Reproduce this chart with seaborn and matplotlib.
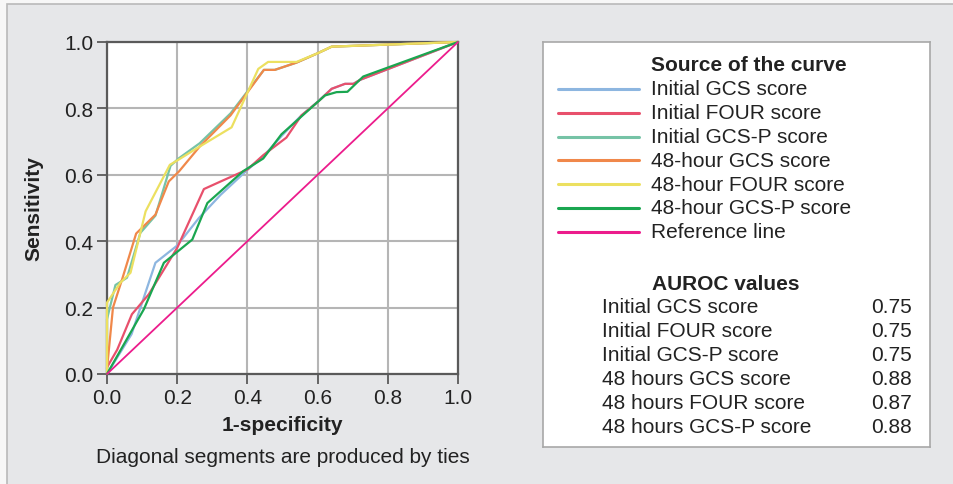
import matplotlib
matplotlib.use("Agg")
import matplotlib.pyplot as plt
import seaborn as sns
import pandas as pd
from matplotlib.patches import Rectangle

# --- data ---
gcs_init_x = [0, 0.07, 0.138, 0.2, 0.262, 0.324, 0.4, 0.445, 0.5, 0.55, 0.6, 0.64, 0.678, 0.702, 0.721, 1.0]
gcs_init_y = [0, 0.12, 0.335, 0.387, 0.47, 0.54, 0.615, 0.655, 0.72, 0.775, 0.82, 0.859, 0.874, 0.874, 0.886, 1.0]

four_init_x = [0, 0.029, 0.071, 0.119, 0.2, 0.276, 0.324, 0.4, 0.445, 0.511, 0.554, 0.601, 0.64, 0.678, 0.702, 0.721, 1.0]
four_init_y = [0.02, 0.073, 0.18, 0.24, 0.38, 0.557, 0.58, 0.616, 0.659, 0.712, 0.779, 0.82, 0.859, 0.874, 0.874, 0.886, 1.0]

gcsp_init_x = [0, 0, 0.024, 0.057, 0.095, 0.138, 0.181, 0.205, 0.264, 0.352, 0.447, 0.478, 0.54, 0.6, 0.64, 1.0]
gcsp_init_y = [0, 0.165, 0.268, 0.29, 0.425, 0.477, 0.627, 0.65, 0.695, 0.785, 0.916, 0.916, 0.938, 0.966, 0.986, 1.0]

gcs_48_x = [0, 0.017, 0.043, 0.083, 0.138, 0.176, 0.205, 0.264, 0.352, 0.447, 0.478, 0.54, 0.6, 0.64, 1.0]
gcs_48_y = [0.015, 0.2, 0.285, 0.423, 0.48, 0.58, 0.61, 0.685, 0.779, 0.916, 0.916, 0.938, 0.966, 0.986, 1.0]

four_48_x = [0, 0, 0.038, 0.067, 0.11, 0.179, 0.203, 0.264, 0.355, 0.431, 0.459, 0.54, 0.6, 0.64, 1.0]
four_48_y = [0, 0.215, 0.275, 0.305, 0.49, 0.63, 0.645, 0.685, 0.743, 0.919, 0.94, 0.94, 0.966, 0.986, 1.0]

gcsp_48_x = [0, 0.105, 0.162, 0.243, 0.286, 0.388, 0.445, 0.497, 0.55, 0.621, 0.654, 0.685, 0.73, 1.0]
gcsp_48_y = [0, 0.195, 0.335, 0.405, 0.515, 0.611, 0.649, 0.722, 0.772, 0.839, 0.849, 0.85, 0.896, 1.0]

ref_x = [0, 1]
ref_y = [0, 1]

curve_names = ["Initial GCS score", "Initial FOUR score", "Initial GCS-P score",
               "48-hour GCS score", "48-hour FOUR score", "48-hour GCS-P score",
               "Reference line"]
curve_colors = ["#8db6e0", "#e8506c", "#76c3a6", "#f0884a", "#ece060", "#1aa650", "#ec1c8c"]

auroc_labels = ["Initial GCS score", "Initial FOUR score", "Initial GCS-P score",
                "48 hours GCS score", "48 hours FOUR score", "48 hours GCS-P score"]
auroc_values = ["0.75", "0.75", "0.75", "0.88", "0.87", "0.88"]

# long table for seaborn
xs = [gcs_init_x, four_init_x, gcsp_init_x, gcs_48_x, four_48_x, gcsp_48_x, ref_x]
ys = [gcs_init_y, four_init_y, gcsp_init_y, gcs_48_y, four_48_y, gcsp_48_y, ref_y]
rows = []
for name, cx, cy in zip(curve_names, xs, ys):
    for i, (a, b) in enumerate(zip(cx, cy)):
        rows.append({"curve": name, "order": i, "fpr": a, "tpr": b})
df = pd.DataFrame(rows)

sns.set_style("white")
plt.rcParams["font.family"] = ["Liberation Sans", "DejaVu Sans"]

W, H = 954, 485
fig = plt.figure(figsize=(W / 100, H / 100), dpi=100)
fig.patch.set_facecolor("#f7f7f7")
fig.patches.append(Rectangle((7 / W, -0.05), 1.1, 1 - 5 / H + 0.05, transform=fig.transFigure,
                             facecolor="#e6e7e9", edgecolor="#b9b9b9", lw=1.2, zorder=-1))

ax = fig.add_axes([107 / W, 1 - 375 / H, 351 / W, 332 / H])
ax.set_facecolor("white")
for name, col in zip(curve_names, curve_colors):
    sub = df[df["curve"] == name]
    sns.lineplot(data=sub, x="fpr", y="tpr", sort=False, estimator=None, color=col,
                 lw=1.6 if name != "Reference line" else 1.3, ax=ax, legend=False,
                 zorder=3, clip_on=False)

ax.set_xlim(0, 1)
ax.set_ylim(0, 1)
ticks = [0, 0.2, 0.4, 0.6, 0.8, 1.0]
ax.set_xticks(ticks)
ax.set_yticks(ticks)
ax.set_xticklabels([f"{t:.1f}" for t in ticks])
ax.set_yticklabels([f"{t:.1f}" for t in ticks])
ax.grid(True, color="#b5b5b5", lw=1.5)
ax.set_axisbelow(True)
for s in ax.spines.values():
    s.set_color("#5a5a5a")
    s.set_linewidth(1.6)
ax.tick_params(axis="both", direction="out", length=7, width=1.3, color="#5a5a5a",
               labelsize=15, labelcolor="#222222", pad=3, left=True, bottom=True)
ax.set_xlabel("1-specificity", fontsize=15, fontweight="bold", color="#222222", labelpad=6)
ax.set_ylabel("Sensitivity", fontsize=15, fontweight="bold", color="#222222")
ax.yaxis.set_label_coords(-0.18, 0.5)
fig.text(282.5 / W, 1 - 458 / H, "Diagonal segments are produced by ties", ha="center", va="center",
         fontsize=15, color="#222222")

# legend / AUROC box
bx0, by0, bw, bh = 543, 43, 387, 405
lax = fig.add_axes([bx0 / W, 1 - (by0 + bh) / H, bw / W, bh / H])
lax.set_xlim(0, bw)
lax.set_ylim(bh, 0)
lax.set_xticks([])
lax.set_yticks([])
lax.set_facecolor("white")
for s in lax.spines.values():
    s.set_color("#a8a8a8")
    s.set_linewidth(1.2)

lax.text(108, 23, "Source of the curve", fontsize=15, fontweight="bold", va="center", ha="left", color="#222222")
for i, (name, col) in enumerate(zip(curve_names, curve_colors)):
    yy = 47 + i * 23.8
    lax.plot([15, 96], [yy, yy], color=col, lw=2.2)
    lax.text(108, yy, name, fontsize=15, va="center", ha="left", color="#222222")

lax.text(183, 242, "AUROC values", fontsize=15, fontweight="bold", va="center", ha="center", color="#222222")
for i, (lab, val) in enumerate(zip(auroc_labels, auroc_values)):
    yy = 265 + i * 23.9
    lax.text(59, yy, lab, fontsize=15, va="center", ha="left", color="#222222")
    lax.text(369, yy, val, fontsize=15, va="center", ha="right", color="#222222")

fig.savefig("out.png", dpi=100, facecolor=fig.get_facecolor())
